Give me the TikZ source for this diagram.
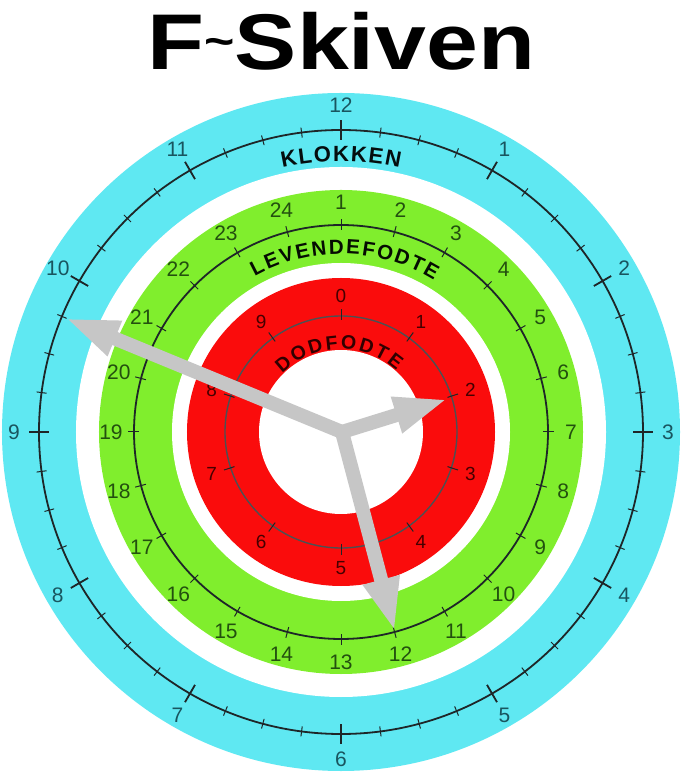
\documentclass[tikz,border=0pt]{standalone}
\usepackage{fontspec}
\setmainfont{Liberation Sans}
\usetikzlibrary{arrows.meta,decorations.text}
\definecolor{ringcyan}{RGB}{95,232,242}
\definecolor{ringgreen}{RGB}{128,238,45}
\definecolor{ringred}{RGB}{250,12,12}
\definecolor{cyantext}{RGB}{25,85,95}
\definecolor{greentext}{RGB}{35,80,15}
\definecolor{redtext}{RGB}{70,0,0}
\definecolor{handgray}{RGB}{198,198,198}
\definecolor{dialblack}{RGB}{30,38,40}
\begin{document}
\begin{tikzpicture}[
  cyanlab/.style={font=\fontsize{21}{21}\selectfont, text=cyantext, inner sep=0pt},
  greenlab/.style={font=\fontsize{21}{21}\selectfont, text=greentext, inner sep=0pt},
  redlab/.style={font=\fontsize{19}{19}\selectfont, text=redtext, inner sep=0pt},
  dialline/.style={draw=dialblack, line width=1.8pt},
  reddialline/.style={draw=dialblack!80, line width=1.4pt},
  minortick/.style={draw=dialblack, line width=1pt},
  majortick/.style={draw=dialblack, line width=1.8pt},
  hand/.style={draw=handgray, line width=14pt, -{Triangle[length=54pt,width=34pt]}, shorten <=-6pt}
]
\useasboundingbox (-341pt,-343pt) rectangle (341pt,432pt);
\fill[white] (-341pt,-343pt) rectangle (341pt,432pt);

% title
\node[anchor=base, inner sep=0pt, font=\bfseries\fontsize{79}{79}\selectfont] (title) at (0.5pt,362pt)
  {\scalebox{1.18}[1]{F{\fontsize{44}{44}\selectfont\raisebox{13pt}{\textasciitilde}}Skiven}};

% rings
\fill[ringcyan] (0,0) circle (339pt);
\fill[white] (0,0) circle (265pt);
\fill[ringgreen] (0,0) circle (242pt);
\fill[white] (0,0) circle (169pt);
\fill[ringred] (0,0) circle (154pt);
\fill[white] (0,0) circle (82pt);

% dial circles
\draw[dialline] (0,0) circle (302pt);
\draw[dialline] (0,0) circle (207pt);
\draw[reddialline] (0,0) circle (116pt);

% ticks
\foreach \i in {0,...,47}
  \draw[minortick] ({90-7.5*\i}:297pt) -- ({90-7.5*\i}:307pt);
\foreach \h in {1,...,12}
  \draw[majortick] ({90-30*\h}:292pt) -- ({90-30*\h}:312pt);
\foreach \n in {1,...,24}
  \draw[minortick] ({105-15*\n}:202pt) -- ({105-15*\n}:213pt);
\foreach \n in {0,...,9}
  \draw[minortick] ({90-36*\n}:112pt) -- ({90-36*\n}:123pt);

% labels
\foreach \h in {1,...,12}
  \node[cyanlab] (k\h) at ({90-30*\h}:327pt) {\h};
\foreach \n in {1,...,24}
  \node[greenlab] (l\n) at ({105-15*\n}:230pt) {\n};
\foreach \n in {0,...,9}
  \node[redlab] (d\n) at ({90-36*\n}:136pt) {\n};

% ring titles
\path[decorate, decoration={text along path, text align={fit to path},
   text color=black!85!cyantext,
   text={|\bfseries\fontsize{22}{22}\selectfont|KLOKKEN}}]
   (102.5:271pt) arc[start angle=102.5, end angle=77.5, radius=271pt];
\path[decorate, decoration={text along path, text align={fit to path},
   text color=black!85!greentext,
   text={|\bfseries\fontsize{20.5}{20.5}\selectfont|LEVENDEFODTE}}]
   (119:178pt) arc[start angle=119, end angle=58.5, radius=178pt];
\path[decorate, decoration={text along path, text align={fit to path},
   text color=redtext!70!black,
   text={|\bfseries\fontsize{19.5}{19.5}\selectfont|DODFODTE}}]
   (135:83pt) arc[start angle=135, end angle=48, radius=83pt];

% hands
\coordinate (hub) at (1pt,0pt);
\coordinate (tipA) at (-276pt,114pt);
\coordinate (tipB) at (107pt,33pt);
\coordinate (tipC) at (54pt,-200pt);
\draw[hand] (hub) -- (tipA);
\draw[hand] (hub) -- (tipB);
\draw[hand] (hub) -- (tipC);
\end{tikzpicture}
\end{document}
